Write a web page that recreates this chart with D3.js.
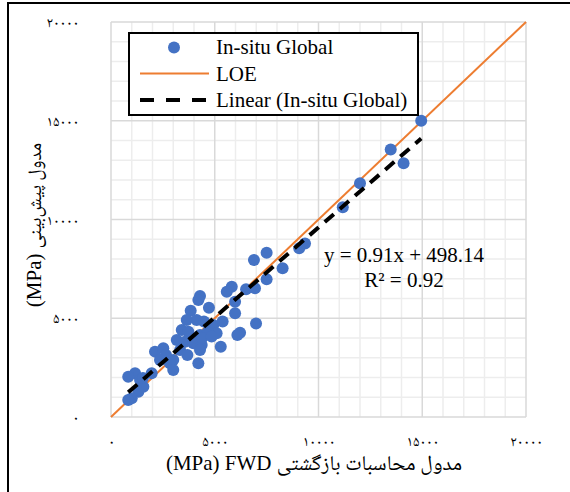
<!DOCTYPE html>
<html>
<head>
<meta charset="utf-8">
<script src="https://cdn.jsdelivr.net/npm/d3@7"></script>
<style>
  body { margin: 0; background: #fff; }
  svg { display: block; }
</style>
</head>
<body>
<svg id="chart" width="570" height="492"></svg>
<script>
"use strict";

// measured points (MPa): FWD back-calculated vs predicted
const fwdValues = [14950, 13480, 14100, 12000, 11170, 9350, 9070, 8270, 7500, 6890,
  7500, 5820, 5580, 6510, 6940, 5980, 5980, 6990, 6220, 6090,
  4290, 4210, 4720, 3840, 3650, 4130, 4480, 4930, 5380, 5090,
  5290, 3410, 3730, 4290, 3170, 3570, 3970, 4370, 4290, 3330,
  3680, 4210, 2120, 2520, 2650, 2360, 3000, 2840, 3000, 1960,
  1160, 830, 1400, 1560, 1320, 1000, 830, 1540, 4670, 4390, 4850];
const predValues = [15000, 13550, 12850, 11830, 10620, 8790, 8540, 7530, 8320, 7950,
  6970, 6600, 6340, 6470, 6520, 5840, 5250, 4740, 4270, 4150,
  6130, 5920, 5530, 5380, 4910, 4910, 4830, 4660, 4830, 4240,
  3560, 4400, 4320, 4150, 3900, 3810, 3730, 3650, 3390, 3390,
  3140, 2720, 3310, 3480, 3140, 2890, 2890, 2720, 2380, 2210,
  2210, 2040, 1870, 1530, 1280, 950, 860, 1970, 4300, 4000, 4070];

const axisTicks = [0, 5000, 10000, 15000, 20000];
const legendLabels = ["In-situ Global", "LOE", "Linear (In-situ Global)"];
const trendSlope = 0.91;
const trendIntercept = 498.14;
const equationLines = ["y = 0.91x + 498.14", "R\u00B2 = 0.92"];
const xTitleParts = ["(MPa) FWD ", "مدول محاسبات بازگشتی"];
const yTitleParts = ["(MPa) ", "مدول پیش‌بینی"];

const BLUE = "#4472C4", ORANGE = "#ED7D31";
const SERIF = "'Liberation Serif', 'Times New Roman', serif";
const ARABIC = "'Noto Naskh Arabic', 'Noto Sans Arabic', 'DejaVu Sans', sans-serif";

function toPersian(n) {
  return String(n).replace(/[0-9]/g, (d) => "۰۱۲۳۴۵۶۷۸۹"[+d]);
}

function translate(x, y) {
  return "translate(" + x + "," + y + ")";
}

const plotLeft = 111, plotTop = 22, width = 415, height = 395;
const svg = d3.select("#chart");
svg.append("rect").attr("width", 570).attr("height", 492).attr("fill", "#fff");

// outer frame (only left and top visible)
svg.append("path").attr("d", "M8,492V3H570").attr("fill", "none")
  .attr("stroke", "#000").attr("stroke-width", 2);

const g = svg.append("g").attr("transform", translate(plotLeft, plotTop));

const x = d3.scaleLinear().domain([0, 20000]).range([0, width]);
const y = d3.scaleLinear().domain([0, 20000]).range([height, 0]);

// minor grid
const minor = d3.range(1000, 20000, 1000).filter((v) => v % 5000 !== 0);
g.append("g").selectAll("line").data(minor).join("line")
  .attr("x1", (d) => x(d)).attr("x2", (d) => x(d)).attr("y1", 0).attr("y2", height)
  .attr("stroke", "#EDEDED").attr("stroke-width", 1.5);
g.append("g").selectAll("line").data(minor).join("line")
  .attr("y1", (d) => y(d)).attr("y2", (d) => y(d)).attr("x1", 0).attr("x2", width)
  .attr("stroke", "#EDEDED").attr("stroke-width", 1.5);

// major grid
g.append("g").selectAll("line").data(axisTicks).join("line")
  .attr("x1", (d) => x(d)).attr("x2", (d) => x(d)).attr("y1", 0).attr("y2", height)
  .attr("stroke", "#D9D9D9").attr("stroke-width", 1.5);
g.append("g").selectAll("line").data(axisTicks).join("line")
  .attr("y1", (d) => y(d)).attr("y2", (d) => y(d)).attr("x1", 0).attr("x2", width)
  .attr("stroke", "#D9D9D9").attr("stroke-width", 1.5);

// axes (labels only)
const xAxis = d3.axisBottom(x).tickValues(axisTicks).tickSize(0).tickPadding(19)
  .tickFormat(toPersian);
const yAxis = d3.axisLeft(y).tickValues(axisTicks).tickSize(0).tickPadding(32)
  .tickFormat(toPersian);
g.append("g").attr("transform", translate(0, height)).call(xAxis)
  .call((s) => s.select(".domain").remove());
g.append("g").call(yAxis).call((s) => s.select(".domain").remove());
g.selectAll(".tick text").attr("font-family", ARABIC)
  .attr("font-size", 14.5).attr("fill", "#000");

// line of equality
g.append("line").attr("x1", x(0)).attr("y1", y(0)).attr("x2", x(20000)).attr("y2", y(20000))
  .attr("stroke", ORANGE).attr("stroke-width", 2);

// points
const points = fwdValues.map((v, i) => [v, predValues[i]]);
g.append("g").selectAll("circle").data(points).join("circle")
  .attr("cx", (d) => x(d[0])).attr("cy", (d) => y(d[1])).attr("r", 6)
  .attr("fill", BLUE);

// trend line
const xMin = d3.min(fwdValues), xMax = d3.max(fwdValues);
g.append("line")
  .attr("x1", x(xMin)).attr("y1", y(trendSlope * xMin + trendIntercept))
  .attr("x2", x(xMax)).attr("y2", y(trendSlope * xMax + trendIntercept))
  .attr("stroke", "#000").attr("stroke-width", 4).attr("stroke-dasharray", "12,8");

// equation
g.append("g").selectAll("text").data(equationLines).join("text")
  .attr("x", 293).attr("y", (d, i) => 240 + i * 24.5)
  .attr("text-anchor", "middle").attr("font-family", SERIF).attr("font-size", 21)
  .text((d) => d);

// legend
const lg = svg.append("g").attr("transform", translate(129, 33));
lg.append("rect").attr("width", 289).attr("height", 82).attr("fill", "#fff")
  .attr("stroke", "#000").attr("stroke-width", 2);
lg.append("circle").attr("cx", 45).attr("cy", 14.5).attr("r", 6).attr("fill", BLUE);
lg.append("line").attr("x1", 11).attr("x2", 80).attr("y1", 40.5).attr("y2", 40.5)
  .attr("stroke", ORANGE).attr("stroke-width", 2);
lg.append("line").attr("x1", 11).attr("x2", 80).attr("y1", 67).attr("y2", 67)
  .attr("stroke", "#000").attr("stroke-width", 4).attr("stroke-dasharray", "14,12");
lg.selectAll("text.lbl").data(legendLabels).join("text").attr("class", "lbl")
  .attr("x", 87).attr("y", (d, i) => 21 + i * 26.5)
  .attr("font-family", SERIF).attr("font-size", 21).text((d) => d);

// axis titles: latin part first in an LTR paragraph, persian run follows on the right
function addTitle(sel, parts, persianSize) {
  sel.attr("text-anchor", "middle").attr("direction", "ltr");
  sel.append("tspan").attr("font-family", SERIF).attr("font-size", 21).text(parts[0]);
  sel.append("tspan").attr("font-family", ARABIC).attr("font-size", persianSize).text(parts[1]);
}
addTitle(svg.append("text").attr("x", 314).attr("y", 470), xTitleParts, 21);
addTitle(svg.append("text").attr("transform", translate(41, 225) + " rotate(-90)"), yTitleParts, 19);
</script>
</body>
</html>
